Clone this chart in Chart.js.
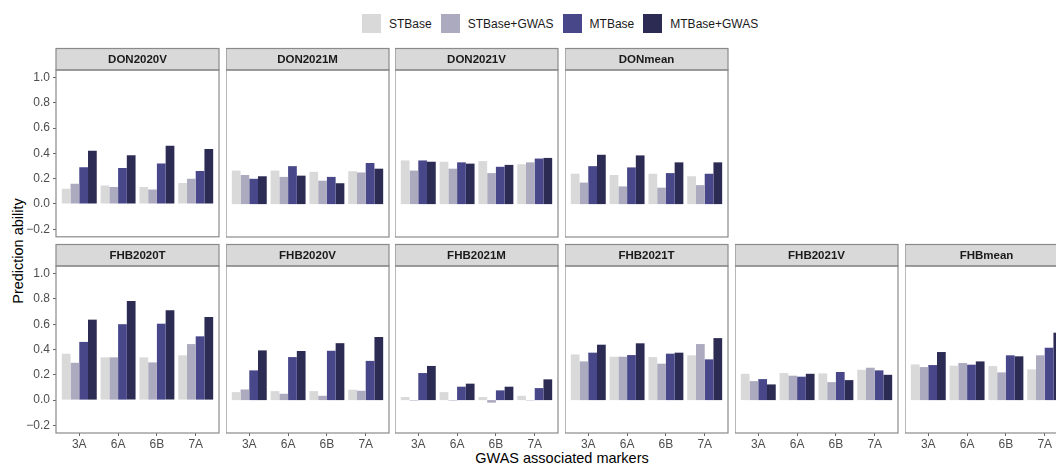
<!DOCTYPE html>
<html>
<head>
<meta charset="utf-8">
<script src="https://cdn.jsdelivr.net/npm/chart.js@4.4.1/dist/chart.umd.min.js"></script>
<style>
  html, body { margin: 0; padding: 0; background: #fff; }
  body {
    width: 1056px; height: 465px; overflow: hidden; position: relative;
    font-family: "Liberation Sans", Arial, Helvetica, sans-serif;
  }
  canvas { position: absolute; }
  #legend {
    position: absolute; left: 362px; top: 14px; height: 19px;
    display: flex; align-items: center;
  }
  .legend-key { width: 19px; height: 19px; margin-right: 8px; }
  .legend-text { font-size: 12px; color: #1a1a1a; margin-right: 9px; white-space: nowrap; }
  .axis-title {
    position: absolute; font-size: 14.5px; color: #000; white-space: nowrap;
  }
  #xtitle { left: 562px; top: 458px; transform: translate(-50%, -50%); }
  #ytitle { left: 18px; top: 251px; transform: translate(-50%, -50%) rotate(-90deg); }
</style>
</head>
<body>
<div id="legend"></div>
<div class="axis-title" id="xtitle">GWAS associated markers</div>
<div class="axis-title" id="ytitle">Prediction ability</div>
<script>
// Marker sets on the x axis and the four model variants
const categories = ['3A', '6A', '6B', '7A'];
const seriesNames = ['STBase', 'STBase+GWAS', 'MTBase', 'MTBase+GWAS'];
const seriesColors = ['#D9D9D9', '#ABAABF', '#48478A', '#2C2B54'];
const yTickValues = [-0.2, 0, 0.2, 0.4, 0.6, 0.8, 1.0];
const yTickLabels = ['\u22120.2', '0.0', '0.2', '0.4', '0.6', '0.8', '1.0'];

// Prediction ability per trait: one row per model (seriesNames order), one value per marker set
const DON2020V = [
  [0.12, 0.145, 0.135, 0.165],
  [0.16, 0.135, 0.115, 0.20],
  [0.29, 0.285, 0.32, 0.26],
  [0.42, 0.385, 0.46, 0.435]
];
const DON2021M = [
  [0.265, 0.265, 0.255, 0.26],
  [0.23, 0.215, 0.185, 0.25],
  [0.20, 0.30, 0.215, 0.325],
  [0.22, 0.225, 0.165, 0.28]
];
const DON2021V = [
  [0.345, 0.335, 0.34, 0.315],
  [0.265, 0.28, 0.245, 0.33],
  [0.345, 0.33, 0.295, 0.36],
  [0.335, 0.32, 0.31, 0.365]
];
const DONmean = [
  [0.24, 0.23, 0.24, 0.22],
  [0.17, 0.14, 0.13, 0.15],
  [0.30, 0.29, 0.245, 0.24],
  [0.39, 0.385, 0.33, 0.33]
];
const FHB2020T = [
  [0.367, 0.338, 0.338, 0.354],
  [0.295, 0.338, 0.298, 0.443],
  [0.46, 0.60, 0.604, 0.504],
  [0.636, 0.784, 0.71, 0.657]
];
const FHB2020V = [
  [0.063, 0.071, 0.071, 0.082],
  [0.084, 0.05, 0.034, 0.074],
  [0.235, 0.34, 0.39, 0.31],
  [0.393, 0.388, 0.45, 0.499]
];
const FHB2021M = [
  [0.024, 0.063, 0.024, 0.034],
  [-0.004, -0.004, -0.02, -0.003],
  [0.214, 0.106, 0.077, 0.095],
  [0.27, 0.13, 0.106, 0.164]
];
const FHB2021T = [
  [0.361, 0.343, 0.34, 0.354],
  [0.306, 0.343, 0.288, 0.443],
  [0.375, 0.356, 0.367, 0.322],
  [0.438, 0.449, 0.375, 0.49]
];
const FHB2021V = [
  [0.208, 0.214, 0.211, 0.24],
  [0.15, 0.193, 0.142, 0.256],
  [0.166, 0.185, 0.222, 0.235],
  [0.124, 0.208, 0.158, 0.20]
];
const FHBmean = [
  [0.282, 0.272, 0.269, 0.243],
  [0.261, 0.293, 0.219, 0.354],
  [0.277, 0.28, 0.354, 0.414],
  [0.38, 0.306, 0.346, 0.533]
];

const panelRows = [
  [['DON2020V', DON2020V], ['DON2021M', DON2021M], ['DON2021V', DON2021V], ['DONmean', DONmean]],
  [['FHB2020T', FHB2020T], ['FHB2020V', FHB2020V], ['FHB2021M', FHB2021M],
   ['FHB2021T', FHB2021T], ['FHB2021V', FHB2021V], ['FHBmean', FHBmean]]
];

// ---- layout of the facet grid ----
const FONT = '"Liberation Sans", Arial, Helvetica, sans-serif';
const PANEL_W = 163, COL_STEP = 169.7, FIRST_LEFT = 56, Y_AXIS_W = 56, RIGHT_PAD = 2;
const STRIP_H = 21.5;
const rowGeom = [
  { canvasTop: 46, plotTop: 70, plotBottom: 237, showX: false },
  { canvasTop: 242, plotTop: 266, plotBottom: 433, showX: true }
];
const X_AXIS_H = 22;
const FRAME = '#8a8a8a';

Chart.defaults.font.family = FONT;

// legend
const legendEl = document.getElementById('legend');
seriesNames.forEach((name, i) => {
  const key = document.createElement('div');
  key.className = 'legend-key';
  key.style.background = seriesColors[i];
  const txt = document.createElement('div');
  txt.className = 'legend-text';
  txt.textContent = name;
  legendEl.appendChild(key);
  legendEl.appendChild(txt);
});

// strip header and panel border around every facet
const facetFrame = {
  id: 'facetFrame',
  beforeDatasetsDraw(chart, args, opts) {
    const { left, top, right } = chart.chartArea;
    const ctx = chart.ctx;
    ctx.save();
    ctx.fillStyle = '#D9D9D9';
    ctx.fillRect(left, top - STRIP_H, right - left, STRIP_H);
    ctx.strokeStyle = FRAME;
    ctx.lineWidth = 1.2;
    ctx.strokeRect(left, top - STRIP_H, right - left, STRIP_H);
    ctx.fillStyle = '#1a1a1a';
    ctx.font = 'bold 11.5px ' + FONT;
    ctx.textAlign = 'center';
    ctx.textBaseline = 'middle';
    ctx.fillText(opts.title, (left + right) / 2, top - STRIP_H / 2 + 0.5);
    ctx.restore();
  },
  afterDraw(chart) {
    const { left, top, right, bottom } = chart.chartArea;
    const ctx = chart.ctx;
    ctx.save();
    ctx.strokeStyle = FRAME;
    ctx.lineWidth = 1.2;
    ctx.strokeRect(left, top, right - left, bottom - top);
    ctx.restore();
  }
};

panelRows.forEach((row, r) => {
  const g = rowGeom[r];
  row.forEach(([title, values], c) => {
    const showY = c === 0;
    const yW = showY ? Y_AXIS_W : 0;
    const colLeft = Math.round(FIRST_LEFT + COL_STEP * c);
    const padTop = g.plotTop - g.canvasTop;
    const padBottom = g.showX ? 0 : 10;
    const height = padTop + (g.plotBottom - g.plotTop) + (g.showX ? X_AXIS_H : 0) + padBottom;
    const width = yW + PANEL_W + RIGHT_PAD;

    const canvas = document.createElement('canvas');
    canvas.width = width;
    canvas.height = height;
    canvas.style.left = (colLeft - yW) + 'px';
    canvas.style.top = g.canvasTop + 'px';
    canvas.style.width = width + 'px';
    canvas.style.height = height + 'px';
    document.body.appendChild(canvas);

    new Chart(canvas.getContext('2d'), {
      type: 'bar',
      data: {
        datasets: seriesNames.map((name, s) => ({
          label: name,
          data: categories.map((cat, i) => ({ x: i + 1, y: values[s][i] })),
          backgroundColor: seriesColors[s],
          borderWidth: 0,
          categoryPercentage: 0.9,
          barPercentage: 1.0
        }))
      },
      options: {
        responsive: false,
        animation: false,
        devicePixelRatio: 1,
        layout: { padding: { left: 0, right: RIGHT_PAD, top: padTop, bottom: padBottom } },
        plugins: {
          legend: { display: false },
          tooltip: { enabled: false },
          facetFrame: { title }
        },
        scales: {
          x: {
            type: 'linear',
            min: 0.4,
            max: 4.6,
            offset: false,
            bounds: 'data',
            afterBuildTicks: (scale) => { scale.ticks = categories.map((cat, i) => ({ value: i + 1 })); },
            afterFit: (scale) => { scale.height = g.showX ? X_AXIS_H : 0; },
            ticks: {
              display: g.showX,
              autoSkip: false,
              maxRotation: 0,
              padding: 1,
              color: '#4d4d4d',
              font: { size: 12 },
              callback: (v, i) => categories[i]
            },
            grid: {
              display: g.showX,
              offset: false,
              drawOnChartArea: false,
              drawTicks: true,
              tickLength: 3,
              color: '#666'
            },
            border: { display: false }
          },
          y: {
            type: 'linear',
            min: -0.26,
            max: 1.06,
            bounds: 'data',
            afterBuildTicks: (scale) => { scale.ticks = yTickValues.map(v => ({ value: v })); },
            afterFit: (scale) => { scale.width = yW; },
            ticks: {
              display: showY,
              padding: 3,
              color: '#4d4d4d',
              font: { size: 12 },
              callback: (v, i) => yTickLabels[i]
            },
            grid: {
              display: showY,
              drawOnChartArea: false,
              drawTicks: true,
              tickLength: 3,
              color: '#666'
            },
            border: { display: false }
          }
        }
      },
      plugins: [facetFrame]
    });
  });
});
</script>
</body>
</html>
